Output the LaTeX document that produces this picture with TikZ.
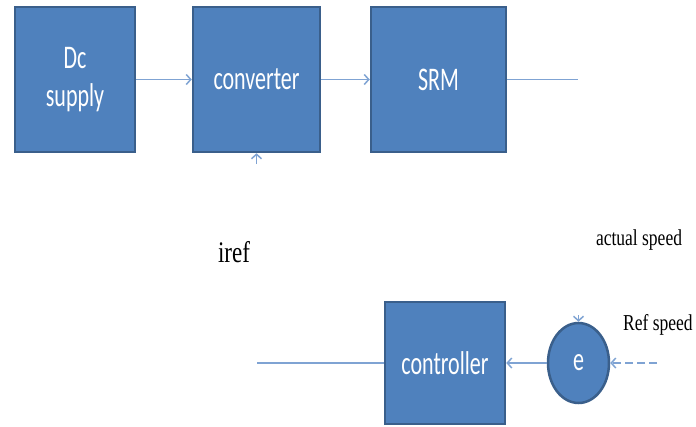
\documentclass[tikz,border=0pt]{standalone}
\usepackage{fontspec}
\setmainfont{Liberation Serif}
\newfontfamily\boxfont{Carlito}
\usetikzlibrary{arrows.meta,shapes.geometric}
\definecolor{blockfill}{HTML}{4F81BD}
\definecolor{blockline}{HTML}{3A5F8B}
\definecolor{wirecol}{HTML}{7FA3D3}
\newcommand{\tall}[1]{\scalebox{1}[1.5]{#1}}
\newcommand{\talltext}[1]{\scalebox{1}[1.3]{#1}}
\tikzset{
  block/.style={draw=blockline, fill=blockfill, line width=2.5pt, text=white,
    font=\boxfont\fontsize{22}{38}\selectfont, align=center, inner sep=0pt},
  wire/.style={draw=wirecol, line width=1.5pt, -{Straight Barb[length=4.5pt,width=10pt]}},
  sigtext/.style={font=\fontsize{17.5}{20}\selectfont, inner sep=0pt}
}
\begin{document}
\begin{tikzpicture}[x=1pt,y=-1pt]
\useasboundingbox (0,0) rectangle (696,426);
% blocks
\node[block, minimum width=120pt, minimum height=145pt] (dc) at (75,79.5) {\tall{Dc}\\\tall{supply}};
\node[block, minimum width=127pt, minimum height=145pt] (conv) at (256.5,79.5) {\tall{converter}};
\node[block, minimum width=135pt, minimum height=145pt] (srm) at (438.5,79.5) {\tall{SRM}};
\node[block, minimum width=120pt, minimum height=122pt] (ctrl) at (445,363) {\tall{controller}};
\node[block, ellipse, minimum width=61pt, minimum height=80pt] (err) at (578.5,363) {\tall{e}};
% free ends
\coordinate (spd) at (578,79.5);
\coordinate (iin) at (256.5,164);
\coordinate (fb) at (578.5,315);
\coordinate (refin) at (657,363);
\coordinate (iout) at (257,363);
% connectors
\draw[wire] (dc) -- (conv);
\draw[wire] (conv) -- (srm);
\draw[wire, -] (srm) -- (spd);
\draw[wire] (iin) -- (conv);
\draw[wire] (fb) -- (err);
\draw[wire, dash pattern=on 8pt off 4pt] (refin) -- (err);
\draw[wire] (err) -- (ctrl);
\draw[wire, -] (ctrl) -- (iout);
% labels
\node[sigtext, font=\fontsize{23}{24}\selectfont] (iref) at (234,252) {\talltext{iref}};
\node[sigtext] (act) at (639,240) {\talltext{actual speed}};
\node[sigtext, anchor=west] (ref) at (623,325) {\talltext{Ref speed}};
\end{tikzpicture}
\end{document}
